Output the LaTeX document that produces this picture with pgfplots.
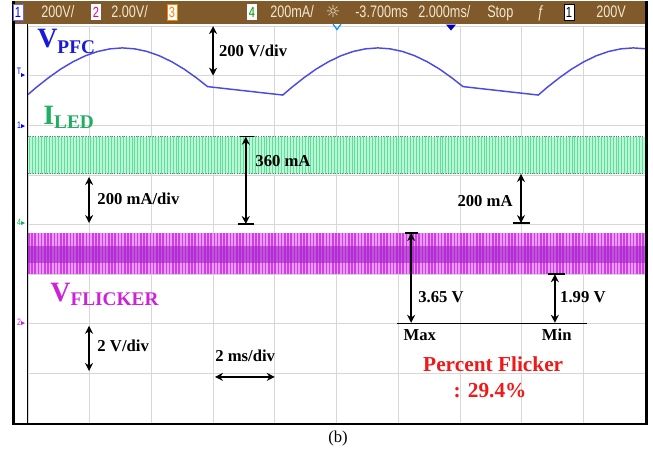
\documentclass[border=0pt]{standalone}
\usepackage{fontspec}
\setmainfont{Liberation Serif}
\newfontfamily\hdr{Liberation Sans}[FakeStretch=0.76]
\newfontfamily\dejavu{DejaVu Sans}
\usepackage{pgfplots}
\pgfplotsset{compat=1.18}
\usetikzlibrary{patterns.meta,arrows.meta}
\definecolor{pfcblue}{RGB}{75,75,228}
\definecolor{pfctext}{RGB}{25,25,215}
\definecolor{ledtext}{RGB}{30,175,95}
\definecolor{ledfill}{RGB}{185,247,213}
\definecolor{ledline}{RGB}{95,222,155}
\definecolor{flktext}{RGB}{205,35,215}
\definecolor{flkfill}{RGB}{234,155,246}
\definecolor{flkline}{RGB}{205,65,228}
\definecolor{flkdark}{RGB}{160,25,195}
\definecolor{hdrbrown}{RGB}{128,90,42}
\definecolor{hdrtext}{RGB}{242,232,208}
\definecolor{gridgray}{RGB}{215,215,215}
\definecolor{pfred}{RGB}{240,25,25}
\tikzset{dbl/.style={{Stealth[length=6pt,width=6pt]}-{Stealth[length=6pt,width=6pt]}, line width=1.1pt},
  lbl/.style={font=\bfseries\fontsize{12.5}{13}\selectfont, inner sep=1pt}}
\begin{document}
\begin{tikzpicture}
\path (0,0) rectangle (489.75pt,-340.5pt);
% header
\begin{scope}[x=0.75pt,y=-0.75pt]
\fill[hdrbrown] (13,0) rectangle (648,22.5);
\end{scope}
\begin{axis}[at={(21pt,-316.5pt)}, anchor=south west, scale only axis,
  width=462.75pt, height=297.75pt,
  xmin=0, xmax=10, ymin=0, ymax=8,
  xtick={0,...,10}, ytick={0,...,8},
  xticklabels={}, yticklabels={},
  major tick length=0pt,
  grid=major, grid style={gridgray, line width=0.6pt},
  axis line style={draw=none},
  clip=false]
% I_LED band
\addplot[draw=none, fill=ledfill] coordinates {(0,5.02) (10,5.02) (10,5.77) (0,5.77)} -- cycle;
\addplot[draw=none, pattern={Lines[angle=90,distance=2.2pt,line width=0.7pt]}, pattern color=ledline] coordinates {(0,5.02) (10,5.02) (10,5.77) (0,5.77)} -- cycle;
\addplot[densely dotted, line width=0.8pt, black!55] coordinates {(0,5.77) (10,5.77)};
\addplot[densely dotted, line width=0.8pt, black!55] coordinates {(0,5.02) (10,5.02)};
% V_FLICKER band
\addplot[draw=none, fill=flkfill] coordinates {(0,3.0) (10,3.0) (10,3.83) (0,3.83)} -- cycle;
\addplot[draw=none, pattern={Lines[angle=90,distance=2.4pt,line width=1.1pt]}, pattern color=flkline] coordinates {(0,3.0) (10,3.0) (10,3.83) (0,3.83)} -- cycle;
\addplot[draw=none, fill=flkdark, fill opacity=0.55] coordinates {(0,3.22) (10,3.22) (10,3.57) (0,3.57)} -- cycle;
% V_PFC trace
\addplot[pfcblue, line width=1.1pt] coordinates {
(0,6.62) (0.13,6.76) (0.33,6.956) (0.53,7.133) (0.73,7.281) (0.93,7.401) (1.13,7.488) (1.33,7.541) (1.53,7.56)
(1.73,7.541) (1.93,7.488) (2.13,7.401) (2.33,7.281) (2.53,7.133) (2.73,6.956) (2.91,6.78)
(4.13,6.61)
(4.27,6.76) (4.47,6.956) (4.67,7.133) (4.87,7.281) (5.07,7.401) (5.27,7.488) (5.47,7.541) (5.67,7.56)
(5.87,7.541) (6.07,7.488) (6.27,7.401) (6.47,7.281) (6.67,7.133) (6.87,6.956) (7.05,6.78)
(8.27,6.61)
(8.41,6.76) (8.61,6.956) (8.81,7.133) (9.01,7.281) (9.21,7.401) (9.41,7.488) (9.61,7.541) (9.81,7.56) (10,7.543)};
% labels of traces
\node[anchor=base west, inner sep=0, text=pfctext, font=\bfseries] at (axis cs:0.146,7.56)
  {\fontsize{21}{21}\selectfont V\fontsize{14.5}{14.5}\selectfont\raisebox{-4pt}{PFC}};
\node[anchor=base west, inner sep=0, text=ledtext, font=\bfseries] at (axis cs:0.243,6.01)
  {\fontsize{21}{21}\selectfont I\fontsize{14.5}{14.5}\selectfont\raisebox{-3pt}{LED}};
\node[anchor=base west, inner sep=0, text=flktext, font=\bfseries] at (axis cs:0.357,2.44)
  {\fontsize{21}{21}\selectfont V\fontsize{14.5}{14.5}\selectfont\raisebox{-3pt}{FLICKER}};
% 200 V/div
\draw[dbl] (axis cs:3.0,8.0) -- (axis cs:3.0,7.0);
\node[lbl, anchor=west] at (axis cs:3.07,7.5) {200 V/div};
% 360 mA
\draw[dbl] (axis cs:3.53,5.77) -- (axis cs:3.53,4.01);
\draw[line width=1.1pt] (axis cs:3.43,5.77) -- (axis cs:3.66,5.77);
\draw[line width=1.1pt] (axis cs:3.40,4.01) -- (axis cs:3.66,4.01);
\node[lbl, anchor=west] at (axis cs:3.66,5.28) {360 mA};
% 200 mA/div
\draw[dbl] (axis cs:0.99,4.96) -- (axis cs:0.99,4.03);
\node[lbl, anchor=west] at (axis cs:1.1,4.52) {200 mA/div};
% 200 mA
\draw[dbl] (axis cs:7.99,5.02) -- (axis cs:7.99,4.03);
\draw[line width=1.1pt] (axis cs:7.86,4.03) -- (axis cs:8.14,4.03);
\node[lbl, anchor=east] at (axis cs:7.88,4.48) {200 mA};
% 3.65 V / 1.99 V
\draw[dbl] (axis cs:6.21,3.83) -- (axis cs:6.21,2.02);
\draw[line width=1.1pt] (axis cs:6.11,3.83) -- (axis cs:6.32,3.83);
\draw[dbl] (axis cs:8.54,3.0) -- (axis cs:8.54,2.02);
\draw[line width=1.1pt] (axis cs:8.43,3.0) -- (axis cs:8.70,3.0);
\draw[line width=1.0pt] (axis cs:5.98,2.0) -- (axis cs:9.06,2.0);
\node[lbl, anchor=west] at (axis cs:6.30,2.54) {3.65 V};
\node[lbl, anchor=west] at (axis cs:8.60,2.54) {1.99 V};
\node[lbl] at (axis cs:6.35,1.78) {Max};
\node[lbl] at (axis cs:8.57,1.78) {Min};
% 2 V/div
\draw[dbl] (axis cs:0.99,1.96) -- (axis cs:0.99,1.05);
\node[lbl, anchor=west] at (axis cs:1.1,1.55) {2 V/div};
% 2 ms/div
\draw[dbl] (axis cs:3.03,0.93) -- (axis cs:4.0,0.93);
\node[lbl] at (axis cs:3.52,1.35) {2 ms/div};
% percent flicker
\node[font=\bfseries\fontsize{16}{16}\selectfont, text=pfred, inner sep=0] at (axis cs:7.54,1.19) {Percent Flicker};
\node[font=\bfseries\fontsize{16}{16}\selectfont, text=pfred, inner sep=0] at (axis cs:7.49,0.65) {: 29.4\%};
\end{axis}
% centre minor ticks
\begin{axis}[at={(21pt,-316.5pt)}, anchor=south west, scale only axis,
  width=462.75pt, height=297.75pt,
  xmin=-5, xmax=5, ymin=-4, ymax=4,
  axis lines=center, axis line style={draw=none},
  xtick=\empty, ytick=\empty,
  minor xtick={-4.8,-4.6,...,4.81}, minor ytick={-3.8,-3.6,...,3.81},
  minor tick length=3pt, tick align=center,
  minor tick style={black!30, line width=0.5pt},
  xticklabels={}, yticklabels={}]
\end{axis}
\begin{scope}[x=0.75pt,y=-0.75pt]
% frame
\draw[line width=1.6pt] (13.5,0) -- (13.5,423) -- (646.5,423) -- (646.5,0);
\draw[line width=0.7pt] (27.5,22.5) -- (27.5,423);
% header texts
\tikzset{htxt/.style={anchor=base west, inner sep=0, text=hdrtext, font=\hdr\fontsize{12.5}{12.5}\selectfont}}
\tikzset{hbox/.style={fill=white, inner sep=0.6pt, minimum width=7.5pt, minimum height=12pt, font=\hdr\fontsize{11}{11}\selectfont}}
\node[hbox, text=blue, draw=blue!60, line width=0.4pt] at (18,11) {1};
\node[htxt] at (41,16.5) {200V/};
\node[hbox, text=magenta] at (96,11) {2};
\node[htxt] at (111,16.5) {2.00V/};
\node[hbox, text=orange, draw=orange, line width=0.4pt] at (172,11) {3};
\node[hbox, text=green!60!black] at (252,11) {4};
\node[htxt] at (270,16.5) {200mA/};
\node[anchor=base, inner sep=0, text=hdrtext, font=\dejavu\fontsize{12.5}{12.5}\selectfont] at (333,16.5) {☼};
\node[htxt] at (355,16.5) {-3.700ms};
\node[htxt] at (418,16.5) {2.000ms/};
\node[htxt] at (487,16.5) {Stop};
\node[htxt] at (537,16.5) {ƒ};
\node[hbox, text=black, draw=black, line width=0.4pt] at (569,11) {1};
\node[htxt] at (596,16.5) {200V};
% top markers
\draw[line width=0.9pt, blue!40!cyan] (333,23) -- (337,28.5) -- (341,23);
\fill[blue!75!black] (446,23.5) -- (456,23.5) -- (451,29.5) -- cycle;
% left channel markers
\tikzset{chm/.style={inner sep=0, font=\hdr\fontsize{7}{7}\selectfont}}
\node[chm, text=blue] at (19,70) {T};
\fill[blue] (21,72) -- (25,74) -- (21,76) -- cycle;
\node[chm, text=blue] at (19,124) {1};
\fill[blue] (21,123) -- (25,125) -- (21,127) -- cycle;
\node[chm, text=ledtext] at (19,221) {4};
\fill[ledtext] (21,220) -- (25,222) -- (21,224) -- cycle;
\node[chm, text=flktext] at (19,321) {2};
\fill[flktext] (21,320) -- (25,322) -- (21,324) -- cycle;
% caption
\node[font=\fontsize{12.5}{12.5}\selectfont] at (338,437) {(b)};
\end{scope}
\end{tikzpicture}
\end{document}
